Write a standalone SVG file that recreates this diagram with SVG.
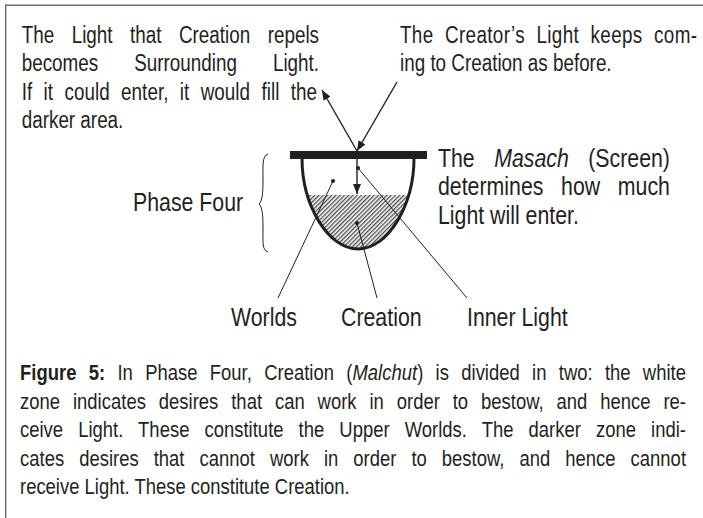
<svg xmlns="http://www.w3.org/2000/svg" width="703" height="518" viewBox="0 0 703 518">
<style>
text{font-family:"Liberation Sans",Arial,sans-serif;fill:#231f20}
.t23{font-size:23px}
.t26{font-size:26px}
.t22{font-size:22.5px}
.thin{stroke:#231f20;stroke-width:1;fill:none}
.arr{stroke:#231f20;stroke-width:1.4;fill:none}
</style>
<defs>
<pattern id="hatch" patternUnits="userSpaceOnUse" width="3" height="3" patternTransform="rotate(45)">
<line x1="0.75" y1="0" x2="0.75" y2="3" stroke="#231f20" stroke-width="1.1"/>
</pattern>
<clipPath id="bowlClip">
<path d="M302,158 C302,205 328,249 358,249 C388,249 414,205 414,158 Z"/>
</clipPath>
<marker id="ah" viewBox="0 0 10 8" refX="10" refY="4" markerWidth="10" markerHeight="8" markerUnits="userSpaceOnUse" orient="auto">
<path d="M0,0 L10,4 L0,8 Z" fill="#231f20"/>
</marker>
</defs>
<g id="frame">
<line x1="5" y1="5.2" x2="703" y2="5.2" stroke="#6d6d6d" stroke-width="1.5"/>
<line x1="5.7" y1="4.5" x2="5.7" y2="518" stroke="#6d6d6d" stroke-width="1.5"/>
</g>
<g id="vessel">
<rect x="300" y="195" width="116" height="56" fill="url(#hatch)" clip-path="url(#bowlClip)"/>
<path d="M302,158 C302,205 328,249 358,249 C388,249 414,205 414,158" fill="none" stroke="#231f20" stroke-width="3"/>
</g>
<g id="masach">
<rect x="290" y="151" width="137" height="8" fill="#231f20"/>
</g>
<g id="brace">
<path d="M268,154 C262,156 263,165 263,180 C263,195 262,201 259,204 C262,207 263,213 263,228 C263,243 262,250 268,252" fill="none" stroke="#231f20" stroke-width="1"/>
</g>
<g id="connectors">
<line class="arr" x1="357" y1="151" x2="322" y2="90" marker-end="url(#ah)"/>
<line class="arr" x1="397" y1="82" x2="357" y2="151" marker-end="url(#ah)"/>
<line class="arr" x1="357" y1="159" x2="357" y2="194" marker-end="url(#ah)"/>
<line class="thin" x1="333" y1="181" x2="278" y2="298"/>
<line class="thin" x1="357" y1="223" x2="377" y2="298"/>
<line class="thin" x1="358" y1="168" x2="467" y2="298"/>
<circle cx="333" cy="181" r="2" fill="#231f20"/>
<circle cx="357" cy="223" r="2" fill="#231f20"/>
<circle cx="358" cy="168" r="2" fill="#231f20"/>
</g>
<g id="label-repelled" transform="scale(0.82,1)" class="t23">
<text x="26.5" y="43" word-spacing="14.9" textLength="362.6" lengthAdjust="spacing">The Light that Creation repels</text>
<text x="26.5" y="71.5" word-spacing="37.5" textLength="362.6" lengthAdjust="spacing">becomes Surrounding Light.</text>
<text x="26.5" y="100" word-spacing="7.4" textLength="360.1" lengthAdjust="spacing">If it could enter, it would fill the</text>
<text x="26.5" y="128">darker area.</text>
</g>
<g id="label-creator" transform="scale(0.82,1)" class="t23">
<text x="487.8" y="43" word-spacing="7" textLength="362.2" lengthAdjust="spacing">The Creator’s Light keeps com-</text>
<text x="487.8" y="71.5">ing to Creation as before.</text>
</g>
<g id="label-masach" transform="scale(0.82,1)" class="t26">
<text x="534.1" y="167" word-spacing="16.5" textLength="282.9" lengthAdjust="spacing">The <tspan font-style="italic">Masach</tspan> (Screen)</text>
<text x="534.1" y="195.5" word-spacing="14.3" textLength="282.9" lengthAdjust="spacing">determines how much</text>
<text x="534.1" y="224">Light will enter.</text>
</g>
<g id="label-phase" transform="scale(0.82,1)" class="t26">
<text x="162.2" y="211">Phase Four</text>
</g>
<g id="label-worlds" transform="scale(0.82,1)" class="t26"><text x="281.7" y="326">Worlds</text></g>
<g id="label-creation" transform="scale(0.82,1)" class="t26"><text x="415.9" y="326">Creation</text></g>
<g id="label-inner" transform="scale(0.82,1)" class="t26"><text x="569.5" y="326">Inner Light</text></g>
<g id="caption" transform="scale(0.82,1)" class="t22">
<text x="24.4" y="380" word-spacing="8.7" textLength="812.2" lengthAdjust="spacing"><tspan font-weight="bold">Figure 5:</tspan> In Phase Four, Creation (<tspan font-style="italic">Malchut</tspan>) is divided in two: the white</text>
<text x="24.4" y="409" word-spacing="9.4" textLength="812.2" lengthAdjust="spacing">zone indicates desires that can work in order to bestow, and hence re-</text>
<text x="24.4" y="437.5" word-spacing="12.1" textLength="812.2" lengthAdjust="spacing">ceive Light. These constitute the Upper Worlds. The darker zone indi-</text>
<text x="24.4" y="466" word-spacing="12" textLength="812.2" lengthAdjust="spacing">cates desires that cannot work in order to bestow, and hence cannot</text>
<text x="24.4" y="494">receive Light. These constitute Creation.</text>
</g>
</svg>
